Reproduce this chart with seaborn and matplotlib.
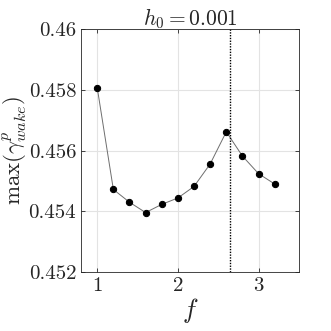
import matplotlib
matplotlib.use("Agg")
import matplotlib.pyplot as plt
import seaborn as sns
import pandas as pd

# max wake value versus f, for h0 = 0.001
f_vals = [1.0, 1.2, 1.4, 1.6, 1.8, 2.0, 2.2, 2.4, 2.6, 2.8, 3.0, 3.2]
gamma_max = [0.45807, 0.45472, 0.45430, 0.45396, 0.45423, 0.45444,
	0.45482, 0.45556, 0.45662, 0.45582, 0.45524, 0.45490]
f_peak = 2.64

sns.set_style("ticks")
plt.rcParams["font.family"] = "serif"
plt.rcParams["font.serif"] = ["cmr10"]
plt.rcParams["mathtext.fontset"] = "cm"
plt.rcParams["axes.formatter.use_mathtext"] = True

df = pd.DataFrame({"f": f_vals, "gamma": gamma_max})

fig = plt.figure(figsize = (3.31, 3.31), dpi = 100)
ax = fig.add_axes([0.245, 0.178, 0.658, 0.734])

sns.lineplot(data = df, x = "f", y = "gamma", ax = ax, color = "#6e6e6e",
	linewidth = 0.7, marker = "o", markersize = 4.5, markerfacecolor = "black",
	markeredgecolor = "black")
ax.axvline(f_peak, color = "black", linestyle = (0, (1, 1)), linewidth = 1.0)

ax.set_xlim(0.8, 3.5)
ax.set_ylim(0.452, 0.46)
ax.set_xticks([1, 2, 3])
ax.set_yticks([0.452, 0.454, 0.456, 0.458, 0.46])
ax.set_yticklabels(["0.452", "0.454", "0.456", "0.458", "0.46"])
ax.grid(True, color = "#e3e3e3", linewidth = 0.8)
ax.set_axisbelow(True)

for s in ax.spines.values():
	s.set_color("#262626")
	s.set_linewidth(0.6)
ax.tick_params(direction = "in", length = 3, width = 0.6, labelsize = 15,
	top = True, right = True, colors = "#262626", pad = 3.5)

ax.set_xlabel(r"$f$", fontsize = 19, labelpad = 1)
ax.set_ylabel(r"$\max(\gamma^{p}_{wake})$", fontsize = 16.5, labelpad = 0)
ax.set_title(r"$h_0 = 0.001$", fontsize = 15.5, pad = 3)

fig.savefig("out.png", dpi = 100)
